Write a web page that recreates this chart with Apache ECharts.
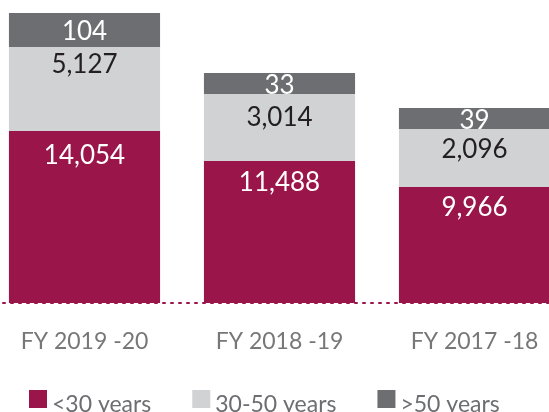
<!DOCTYPE html>
<html>
<head>
<meta charset="utf-8">
<script src="https://cdn.jsdelivr.net/npm/echarts@6/dist/echarts.min.js"></script>
<style>
	html, body { margin: 0; padding: 0; background: #fff; }
	#chart { width: 549px; height: 412px; }
</style>
</head>
<body>
<div id="chart"></div>
<script>
	/* 年份与各年龄段人数 */
	var years = ['FY 2019 -20', 'FY 2018 -19', 'FY 2017 -18'];
	var groups = ['<30 years', '30-50 years', '>50 years'];

	// printed values
	var under30 = [14054, 11488, 9966];
	var mid30to50 = [5127, 3014, 2096];
	var over50 = [104, 33, 39];

	// drawn segment heights (the picture is not to scale)
	var under30Height = [172, 142, 116];
	var midHeight = [84, 67, 58];
	var over50Height = [34, 21, 21];

	var colors = ['#9a1549', '#d1d2d4', '#6d6e71'];

	function fmt(v) {
		return v.toLocaleString('en-US');
	}

	function makeSeries(name, heights, values, color, label, gaps) {
		return {
			name: name,
			type: 'bar',
			stack: 'total',
			barWidth: '77.5%',
			itemStyle: { color: color },
			label: Object.assign({
				show: true,
				fontFamily: 'Lato',
				fontSize: 26,
				formatter: function(p) { return fmt(values[p.dataIndex]); }
			}, label),
			data: heights.map(function(h, i) {
				return gaps ? { value: h, label: { distance: gaps[i] } } : h;
			})
		};
	}

	var option = {
		backgroundColor: '#fff',
		animation: false,
		color: colors,
		grid: {
			left: -13,
			width: 585,
			top: 13,
			bottom: 109,
			containLabel: false,
			outerBoundsMode: 'none'
		},
		legend: {
			data: groups,
			left: 29,
			top: 390,
			padding: 0,
			itemWidth: 18,
			itemHeight: 18,
			itemGap: 41,
			icon: 'rect',
			formatter: '{t|{name}}',
			textStyle: {
				fontFamily: 'Lato',
				fontSize: 23,
				color: '#6d6e71',
				rich: {
					t: {
						fontFamily: 'Lato',
						fontSize: 23,
						color: '#6d6e71',
						padding: [12, 0, 0, 0]
					}
				}
			}
		},
		xAxis: [{
			type: 'category',
			data: years,
			offset: 3,
			axisTick: { show: false },
			axisLine: {
				lineStyle: { color: '#9a1549', width: 2, type: [2, 6] }
			},
			axisLabel: {
				margin: 24,
				fontFamily: 'Lato',
				fontSize: 23,
				color: '#777'
			}
		}],
		yAxis: [{
			type: 'value',
			min: 0,
			max: 290,
			show: false
		}],
		series: [
			makeSeries(groups[0], under30Height, under30, colors[0],
				{ position: 'insideTop', color: '#fff' }, [12, 9, 8]),
			makeSeries(groups[1], midHeight, mid30to50, colors[1],
				{ position: 'insideTop', color: '#231f20' }, [5, 11, 8]),
			makeSeries(groups[2], over50Height, over50, colors[2],
				{ position: 'inside', color: '#fff', offset: [0, 2] })
		]
	};

	var chart = echarts.init(document.getElementById('chart'));
	chart.setOption(option);
	window.addEventListener('resize', function() {
		chart.resize();
	});
</script>
</body>
</html>
